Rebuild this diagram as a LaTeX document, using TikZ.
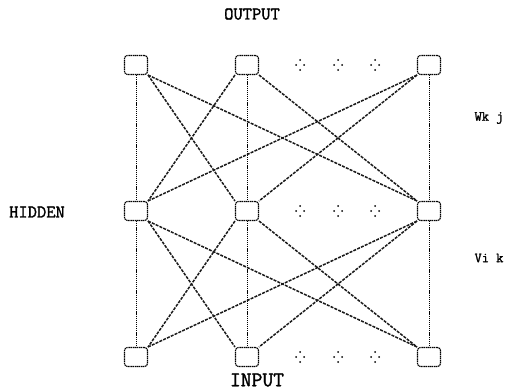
\documentclass[tikz,border=0pt]{standalone}
\usepackage{fontspec}
\setmonofont{Latin Modern Mono}[AutoFakeBold=1.5]
\begin{document}
\begin{tikzpicture}[x=1pt,y=-1pt,
  unit/.style={draw, rounded corners=3pt, minimum width=23pt, minimum height=19pt, inner sep=0pt, line width=1.1pt, dash pattern=on 1.5pt off 0.6pt},
  vconn/.style={line width=1pt, dash pattern=on 1.2pt off 0.9pt, black},
  conn/.style={line width=1.5pt, dash pattern=on 3pt off 1.2pt, black!90},
  lbl/.style={font=\ttfamily\bfseries\fontsize{18}{18}\selectfont},
  wlbl/.style={font=\ttfamily\bfseries\fontsize{14}{14}\selectfont}]
\useasboundingbox (0,0) rectangle (508,390);
% units
\foreach \n/\x/\y in {o1/136/65, o2/247/65, o3/429/65,
                      h1/136/211, h2/247/211, h3/429/211,
                      i1/136/357, i2/247/357, i3/429/357}
  \node[unit] (\n) at (\x,\y) {};
% ellipsis dots
\foreach \c/\x/\y in {da/300/65, db/338/65, dc/375/65,
                      dd/300/211, de/338/211, df/375/211,
                      dg/300/357, dh/338/357, di/375/357}{
  \coordinate (\c) at (\x,\y);
  \foreach \dx/\dy in {0/-5, -4/0, 4/0, 0/5}
    \fill ([shift={(\dx,\dy)}]\c) circle (1pt);
}
% connections output-hidden and hidden-input
\foreach \u/\l in {o/h, h/i}{
  \foreach \a in {1,2,3}{
    \foreach \b in {1,2,3}{
      \ifnum\a=\b
        \draw[vconn] (\u\a.south) -- (\l\b.north);
      \else\ifnum\a<\b
        \draw[conn] (\u\a.south east) -- (\l\b.north west);
      \else
        \draw[conn] (\u\a.south west) -- (\l\b.north east);
      \fi\fi
    }
  }
}
% labels
\node[lbl] (tout) at (252,14) {OUTPUT};
\node[lbl] (thid) at (37,212) {HIDDEN};
\node[lbl, font=\ttfamily\bfseries\fontsize{21}{21}\selectfont] (tin) at (257,380) {INPUT};
\node[wlbl] (tw) at (489,118) {Wk j};
\node[wlbl] (tv) at (489,258) {Vi k};
\end{tikzpicture}
\end{document}
